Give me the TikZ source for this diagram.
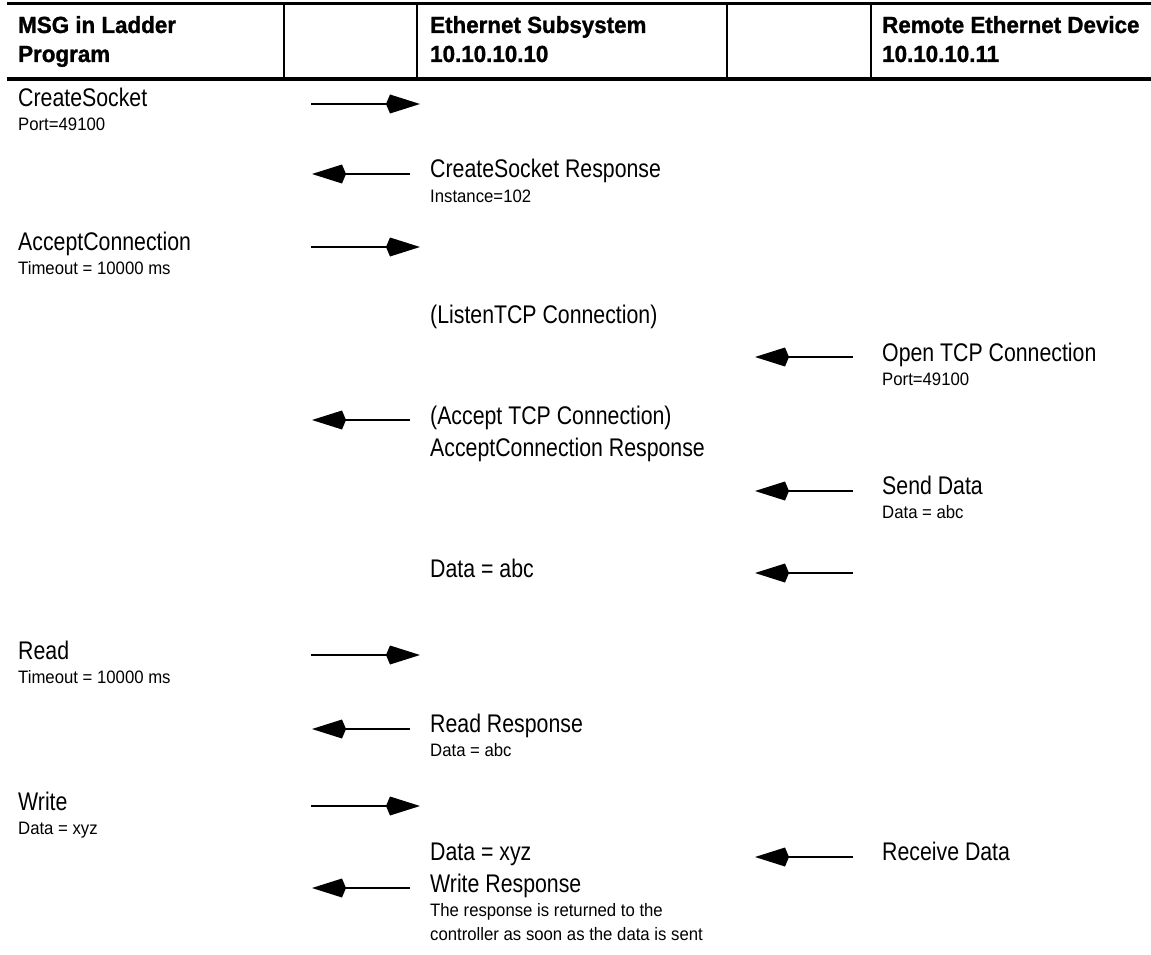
\documentclass[tikz,border=0pt]{standalone}
\usepackage{fontspec}
\setmainfont{Liberation Sans}
\newfontfamily\bigfont[FakeStretch=0.835]{Liberation Sans}
\newfontfamily\smallfont[FakeStretch=0.93]{Liberation Sans}
\newfontfamily\headfont[FakeStretch=0.96,FakeBold=1.2]{Liberation Sans Bold}
\usetikzlibrary{arrows.meta}
\begin{document}
\begin{tikzpicture}[x=1pt,y=-1pt,
  big/.style={anchor=base west,inner sep=0pt,font=\bigfont\fontsize{25.5}{30}\selectfont},
  small/.style={anchor=base west,inner sep=0pt,font=\smallfont\fontsize{18}{22}\selectfont},
  head/.style={anchor=base west,inner sep=0pt,font=\headfont\fontsize{23.3}{28}\selectfont},
  msg/.style={line width=1.7pt,-{Kite[length=34pt,width=19pt,inset=4pt]}},
  rulel/.style={line width=3.3pt},
  sepl/.style={line width=2pt}]
\useasboundingbox (0,0) rectangle (1151,955);
% header table
\draw[rulel] (7,3.8) -- (1151,3.8);
\draw[rulel] (7,79) -- (1151,79);
\foreach \x in {284,417,727,871} \draw[sepl] (\x,4) -- (\x,78);
\node[head] (h1a) at (18,33) {MSG in Ladder};
\node[head] (h1b) at (18,62) {Program};
\node[head] (h2a) at (430,33) {Ethernet Subsystem};
\node[head] (h2b) at (430,62) {10.10.10.10};
\node[head] (h3a) at (882,33) {Remote Ethernet Device};
\node[head] (h3b) at (882,62) {10.10.10.11};
% row 1
\node[big] (t1) at (18,107) {CreateSocket};
\node[small] (t1s) at (18,131) {Port=49100};
\coordinate (a1s) at (311,104); \coordinate (a1e) at (420,104);
\draw[msg] (a1s) -- (a1e);
% row 2
\node[big] (t2) at (430,178) {CreateSocket Response};
\node[small] (t2s) at (430,202) {Instance=102};
\coordinate (a2s) at (410,174); \coordinate (a2e) at (312,174);
\draw[msg] (a2s) -- (a2e);
% row 3
\node[big] (t3) at (18,250) {AcceptConnection};
\node[small] (t3s) at (18,274) {Timeout = 10000 ms};
\coordinate (a3s) at (311,247); \coordinate (a3e) at (420,247);
\draw[msg] (a3s) -- (a3e);
% row 4
\node[big] (t4) at (430,323) {(ListenTCP Connection)};
% row 5
\node[big] (t5) at (882,361) {Open TCP Connection};
\node[small] (t5s) at (882,385) {Port=49100};
\coordinate (a5s) at (853,357); \coordinate (a5e) at (755,357);
\draw[msg] (a5s) -- (a5e);
% row 6
\node[big] (t6a) at (430,424) {(Accept TCP Connection)};
\node[big] (t6b) at (430,456) {AcceptConnection Response};
\coordinate (a6s) at (410,420); \coordinate (a6e) at (312,420);
\draw[msg] (a6s) -- (a6e);
% row 7
\node[big] (t7) at (882,494) {Send Data};
\node[small] (t7s) at (882,518) {Data = abc};
\coordinate (a7s) at (853,491); \coordinate (a7e) at (755,491);
\draw[msg] (a7s) -- (a7e);
% row 8
\node[big] (t8) at (430,577) {Data = abc};
\coordinate (a8s) at (853,573); \coordinate (a8e) at (755,573);
\draw[msg] (a8s) -- (a8e);
% row 9
\node[big] (t9) at (18,659) {Read};
\node[small] (t9s) at (18,683) {Timeout = 10000 ms};
\coordinate (a9s) at (311,655); \coordinate (a9e) at (420,655);
\draw[msg] (a9s) -- (a9e);
% row 10
\node[big] (t10) at (430,732) {Read Response};
\node[small] (t10s) at (430,756) {Data = abc};
\coordinate (a10s) at (410,729); \coordinate (a10e) at (312,729);
\draw[msg] (a10s) -- (a10e);
% row 11
\node[big] (t11) at (18,810) {Write};
\node[small] (t11s) at (18,834) {Data = xyz};
\coordinate (a11s) at (311,806); \coordinate (a11e) at (420,806);
\draw[msg] (a11s) -- (a11e);
% row 12
\node[big] (t12a) at (430,860) {Data = xyz};
\node[big] (t12b) at (430,892) {Write Response};
\node[small] (t12c) at (430,916) {The response is returned to the};
\node[small] (t12d) at (430,940) {controller as soon as the data is sent};
\node[big] (t12r) at (882,860) {Receive Data};
\coordinate (a12s) at (853,857); \coordinate (a12e) at (755,857);
\draw[msg] (a12s) -- (a12e);
\coordinate (a13s) at (410,888); \coordinate (a13e) at (312,888);
\draw[msg] (a13s) -- (a13e);
\end{tikzpicture}
\end{document}
